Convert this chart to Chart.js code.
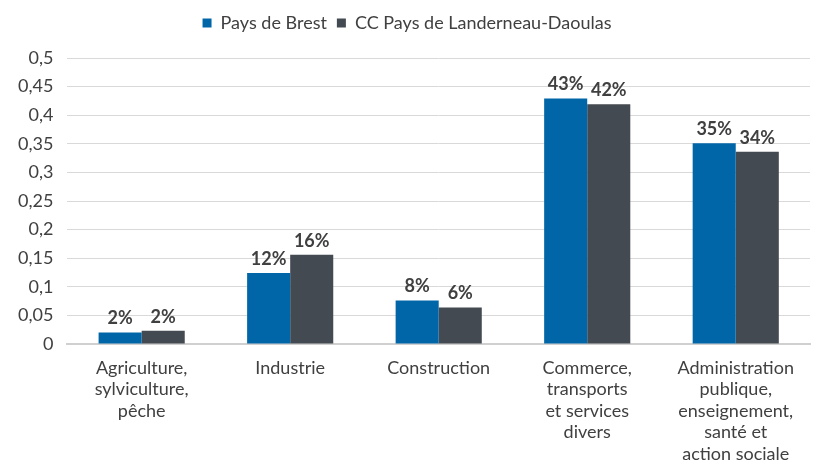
<!DOCTYPE html>
<html>
<head>
<meta charset="utf-8">
<script src="https://cdn.jsdelivr.net/npm/chart.js@4"></script>
<style>
  body { margin: 0; background: #fff; }
  #wrap { width: 814px; height: 470px; }
</style>
</head>
<body>
<div id="wrap"><canvas id="secteursChart" width="814" height="470"></canvas></div>
<script>
// Répartition des emplois par secteur
const categories = [
    ['Agriculture,', 'sylviculture,', 'pêche'],
    'Industrie',
    'Construction',
    ['Commerce,', 'transports', 'et services', 'divers'],
    ['Administration', 'publique,', 'enseignement,', 'santé et', 'action sociale']
];
const paysBrest = [0.02, 0.124, 0.076, 0.429, 0.351];
const ccLanderneau = [0.023, 0.156, 0.064, 0.419, 0.336];
const seriesNames = ['Pays de Brest', 'CC Pays de Landerneau-Daoulas'];
const yTicks = [0, 0.05, 0.1, 0.15, 0.2, 0.25, 0.3, 0.35, 0.4, 0.45, 0.5];

const fontFamily = "Lato, 'Open Sans', sans-serif";

// étiquettes en % au-dessus des barres
const barLabels = {
    id: 'barLabels',
    afterDatasetsDraw(chart) {
        const c = chart.ctx;
        c.save();
        c.font = "bold 18px " + fontFamily;
        c.fillStyle = '#404040';
        c.textAlign = 'center';
        c.textBaseline = 'bottom';
        chart.data.datasets.forEach((ds, i) => {
            chart.getDatasetMeta(i).data.forEach((bar, j) => {
                c.fillText(Math.round(ds.data[j] * 100) + '%', bar.x, bar.y - 5);
            });
        });
        c.restore();
    }
};

// un peu plus d'espace sous la légende
const legendGap = {
    id: 'legendGap',
    beforeInit(chart) {
        const fit = chart.legend.fit;
        chart.legend.fit = function () {
            fit.bind(chart.legend)();
            this.height += 16;
        };
    }
};

new Chart(document.getElementById('secteursChart'), {
    type: 'bar',
    data: {
        labels: categories,
        datasets: [
            { label: seriesNames[0], data: paysBrest, backgroundColor: '#0066a8' },
            { label: seriesNames[1], data: ccLanderneau, backgroundColor: '#444a51' }
        ]
    },
    plugins: [barLabels, legendGap],
    options: {
        responsive: false,
        animation: false,
        layout: { padding: { left: 4, right: 4, top: 4, bottom: 0 } },
        datasets: {
            bar: { categoryPercentage: 0.58, barPercentage: 1.0 }
        },
        plugins: {
            legend: {
                position: 'top',
                labels: {
                    boxWidth: 9,
                    boxHeight: 9,
                    color: '#404040',
                    padding: 10,
                    font: { family: fontFamily, size: 18 }
                }
            },
            tooltip: { enabled: false }
        },
        scales: {
            y: {
                min: 0,
                max: 0.5,
                afterBuildTicks(axis) {
                    axis.ticks = yTicks.map(v => ({ value: v }));
                },
                grid: { color: '#d9d9d9', drawTicks: false },
                border: { display: false },
                ticks: {
                    padding: 14,
                    color: '#404040',
                    font: { family: fontFamily, size: 18 },
                    callback: v => String(Math.round(v * 100) / 100).replace('.', ',')
                }
            },
            x: {
                grid: { display: false },
                border: { color: '#d0d0d0', width: 2 },
                ticks: {
                    color: '#404040',
                    maxRotation: 0,
                    autoSkip: false,
                    padding: 5,
                    font: { family: fontFamily, size: 18, lineHeight: 1.2 }
                }
            }
        }
    }
});
</script>
</body>
</html>
